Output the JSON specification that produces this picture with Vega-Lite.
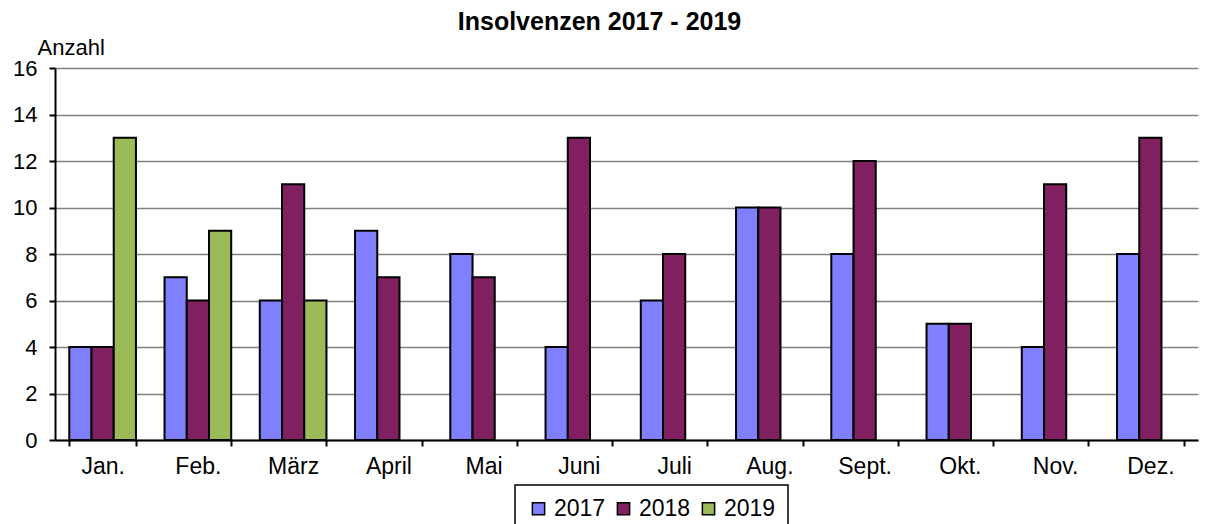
{
  "$schema": "https://vega.github.io/schema/vega-lite/v6.json",
  "width": 1143,
  "height": 372,
  "autosize": {"type": "none"},
  "padding": {"left": 55, "top": 68, "right": 12, "bottom": 84},
  "background": "white",
  "title": {
    "text": "Insolvenzen 2017 - 2019",
    "font": "Liberation Sans",
    "fontSize": 25,
    "fontWeight": "bold",
    "color": "black",
    "anchor": "middle",
    "dx": -27,
    "offset": 1
  },
  "data": {
    "values": [
      {"Monat": "Jan.", "Jahr": "2017", "Anzahl": 4},
      {"Monat": "Jan.", "Jahr": "2018", "Anzahl": 4},
      {"Monat": "Jan.", "Jahr": "2019", "Anzahl": 13},
      {"Monat": "Feb.", "Jahr": "2017", "Anzahl": 7},
      {"Monat": "Feb.", "Jahr": "2018", "Anzahl": 6},
      {"Monat": "Feb.", "Jahr": "2019", "Anzahl": 9},
      {"Monat": "März", "Jahr": "2017", "Anzahl": 6},
      {"Monat": "März", "Jahr": "2018", "Anzahl": 11},
      {"Monat": "März", "Jahr": "2019", "Anzahl": 6},
      {"Monat": "April", "Jahr": "2017", "Anzahl": 9},
      {"Monat": "April", "Jahr": "2018", "Anzahl": 7},
      {"Monat": "Mai", "Jahr": "2017", "Anzahl": 8},
      {"Monat": "Mai", "Jahr": "2018", "Anzahl": 7},
      {"Monat": "Juni", "Jahr": "2017", "Anzahl": 4},
      {"Monat": "Juni", "Jahr": "2018", "Anzahl": 13},
      {"Monat": "Juli", "Jahr": "2017", "Anzahl": 6},
      {"Monat": "Juli", "Jahr": "2018", "Anzahl": 8},
      {"Monat": "Aug.", "Jahr": "2017", "Anzahl": 10},
      {"Monat": "Aug.", "Jahr": "2018", "Anzahl": 10},
      {"Monat": "Sept.", "Jahr": "2017", "Anzahl": 8},
      {"Monat": "Sept.", "Jahr": "2018", "Anzahl": 12},
      {"Monat": "Okt.", "Jahr": "2017", "Anzahl": 5},
      {"Monat": "Okt.", "Jahr": "2018", "Anzahl": 5},
      {"Monat": "Nov.", "Jahr": "2017", "Anzahl": 4},
      {"Monat": "Nov.", "Jahr": "2018", "Anzahl": 11},
      {"Monat": "Dez.", "Jahr": "2017", "Anzahl": 8},
      {"Monat": "Dez.", "Jahr": "2018", "Anzahl": 13}
    ]
  },
  "mark": {"type": "bar", "stroke": "black", "strokeWidth": 2},
  "encoding": {
    "x": {
      "field": "Monat",
      "type": "nominal",
      "sort": ["Jan.", "Feb.", "März", "April", "Mai", "Juni", "Juli", "Aug.", "Sept.", "Okt.", "Nov.", "Dez."],
      "scale": {"paddingInner": 0.3, "paddingOuter": 0.15},
      "axis": {
        "title": null,
        "labelAngle": 0,
        "labelFont": "Liberation Sans",
        "labelFontSize": 23,
        "labelColor": "black",
        "labelPadding": 9,
        "domainColor": "black",
        "domainWidth": 2,
        "tickColor": "black",
        "tickWidth": 2,
        "tickSize": 6,
        "tickBand": "extent",
        "grid": false
      }
    },
    "xOffset": {"field": "Jahr", "type": "nominal", "sort": ["2017", "2018", "2019"], "scale": {"paddingInner": 0, "paddingOuter": 0}},
    "y": {
      "field": "Anzahl",
      "type": "quantitative",
      "scale": {"domain": [0, 16], "nice": false},
      "axis": {
        "values": [0, 2, 4, 6, 8, 10, 12, 14, 16],
        "title": "Anzahl",
        "titleAngle": 0,
        "titleAlign": "left",
        "titleBaseline": "alphabetic",
        "titleX": -18,
        "titleY": -14,
        "titleFont": "Liberation Sans",
        "titleFontSize": 22,
        "titleFontWeight": "normal",
        "titleColor": "black",
        "labelFont": "Liberation Sans",
        "labelFontSize": 22,
        "labelColor": "black",
        "labelPadding": 12,
        "domainColor": "black",
        "domainWidth": 2,
        "tickColor": "black",
        "tickWidth": 2,
        "tickSize": 6,
        "grid": true,
        "gridColor": "#808080",
        "gridWidth": 1.5
      }
    },
    "color": {
      "field": "Jahr",
      "type": "nominal",
      "scale": {"domain": ["2017", "2018", "2019"], "range": ["#8080FF", "#802060", "#9BBB59"]},
      "legend": {
        "title": null,
        "orient": "none",
        "direction": "horizontal",
        "legendX": 460,
        "legendY": 417,
        "symbolType": "square",
        "symbolSize": 150,
        "symbolStrokeColor": "black",
        "symbolOpacity": 1,
        "labelFont": "Liberation Sans",
        "labelFontSize": 23,
        "labelColor": "black",
        "labelOffset": 4,
        "columnPadding": 6,
        "strokeColor": "black",
        "padding": 12
      }
    }
  },
  "config": {
    "view": {"stroke": null},
    "legend": {"strokeWidth": 1.5, "symbolStrokeWidth": 1.5}
  }
}
